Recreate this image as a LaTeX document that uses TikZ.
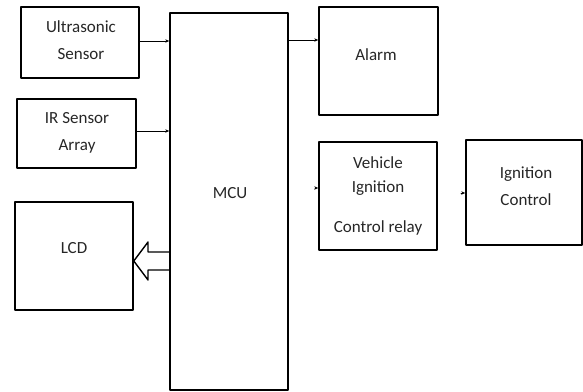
\documentclass[tikz,border=0pt]{standalone}
\usepackage{fontspec}
\setmainfont{Carlito}
\usetikzlibrary{arrows.meta}

\tikzset{
  box/.style={draw, line width=1.6pt, inner sep=0pt, minimum width=118pt},
  txt/.style={inner sep=0pt, align=center, text=black!85, font=\fontsize{17}{27}\selectfont},
  conn/.style={line width=0.8pt, -{Stealth[length=4pt,width=3.4pt]}},
}

\begin{document}
\begin{tikzpicture}[x=1pt, y=-1pt, line cap=round, line join=round]

  %% ════ 方框 ════
  \node[box, minimum height=71pt] (ultra) at (80.0,42.5) {};
  \node[box, minimum width=119pt, minimum height=69pt] (ir) at (76.5,133.5) {};
  \node[box, minimum height=377pt] (mcu) at (229.0,201.5) {};
  \node[box, minimum width=119pt, minimum height=108pt] (alarm) at (378.5,61.0) {};
  \node[box, minimum height=108pt] (veh) at (378.0,196.0) {};
  \node[box, minimum width=116pt, minimum height=105pt] (ign) at (524.0,192.5) {};
  \node[box, minimum height=108pt] (lcd) at (74.0,256.0) {};

  %% ════ 文字 ════
  \node[txt] (ultratxt) at (81.0,40.5) {Ultrasonic\\Sensor};
  \node[txt] (irtxt) at (77.0,133.0) {IR Sensor\\Array};
  \node[txt] (mcutxt) at (230.0,193.5) {MCU};
  \node[txt] (alarmtxt) at (376.0,55.0) {Alarm};
  \node[txt, font=\fontsize{17}{24}\selectfont] (vehtxt) at (378.0,196.0) {Vehicle\\Ignition\\[16pt]Control relay};
  \node[txt] (igntxt) at (526.0,186.0) {Ignition\\Control};
  \node[txt] (lcdtxt) at (74.0,248.5) {LCD};

  %% ════ 连线 ════
  \draw[conn] (ultra.east |- 0,41) -- (mcu.west |- 0,41);
  \draw[conn] (ir.east |- 0,131) -- (mcu.west |- 0,131);
  \draw[conn] (mcu.east |- 0,40) -- (alarm.west |- 0,40);
  \coordinate (vehin) at (315.0,188.0);
  \draw[conn] (vehin) -- (vehin -| veh.west);
  \coordinate (ignin) at (461.0,193.0);
  \draw[conn] (ignin) -- (ignin -| ign.west);

  %% ════ 空心粗箭头 MCU → LCD ════
  \draw[line width=1.4pt] (mcu.west |- 0,252) -- (148,252) -- (148,242)
    -- (lcd.east |- 0,261) -- (148,280) -- (148,270) -- (mcu.west |- 0,270);

  \pgfresetboundingbox
  \path[use as bounding box] (0,0) rectangle (583,391);
\end{tikzpicture}
\end{document}
